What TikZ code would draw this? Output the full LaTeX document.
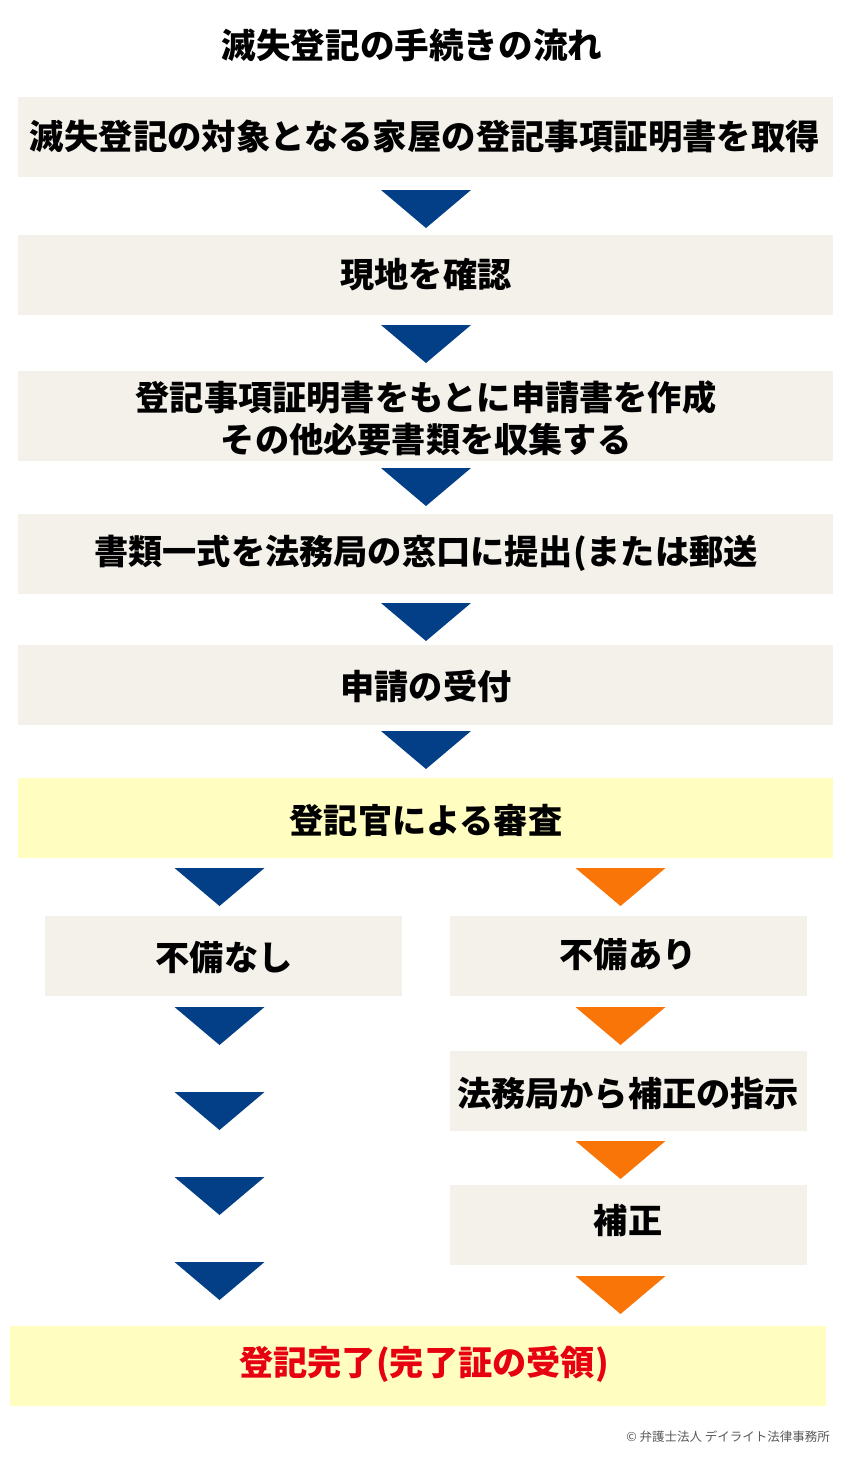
\documentclass[tikz,border=0pt]{standalone}
\usepackage{fontspec}
\setmainfont{Noto Sans CJK JP}
\definecolor{beige}{HTML}{F4F0EA}
\definecolor{yel}{HTML}{FFFDBF}
\definecolor{navy}{HTML}{023F87}
\definecolor{org}{HTML}{FA7507}
\definecolor{redt}{HTML}{E60012}
\newcommand\tri[3]{\fill[#3] (#1-45,#2) -- (#1+45,#2) -- (#1,#2+38) -- cycle;}
\begin{document}
\begin{tikzpicture}[x=1pt,y=-1pt,
  box/.style={fill=beige, inner sep=0pt, minimum height=80},
  wide/.style={minimum width=815},
  half/.style={minimum width=357},
  ybox/.style={box, fill=yel},
  txt/.style={inner sep=0pt, font=\fontsize{34.2}{42}\selectfont\bfseries, text=black, align=center}]
\useasboundingbox (0,0) rectangle (850,1461);
\fill[white] (0,0) rectangle (850,1461);
\node[txt, font=\fontsize{34.6}{42}\selectfont\bfseries] (title) at (412,45) {滅失登記の手続きの流れ};
% main column boxes
\node[box,wide] (b1) at (425.5,137) {};
\node[txt, font=\fontsize{34.4}{42}\selectfont\bfseries] at (425,136) {滅失登記の対象となる家屋の登記事項証明書を取得};
\node[box,wide] (b2) at (425.5,274.5) {};
\node[txt] at (426,275) {現地を確認};
\node[box,wide,minimum height=90] (b3) at (425.5,416) {};
\node[txt] at (426,418) {登記事項証明書をもとに申請書を作成\\その他必要書類を収集する};
\node[box,wide] (b4) at (425.5,553.5) {};
\node[txt] at (426,553) {書類一式を法務局の窓口に提出(または郵送};
\node[box,wide] (b5) at (425.5,684.5) {};
\node[txt] at (426,686) {申請の受付};
\node[ybox,wide] (b6) at (425.5,818) {};
\node[txt] at (426,820) {登記官による審査};
% branches
\node[box,half] (L) at (223.5,956) {};
\node[txt] at (224,958) {不備なし};
\node[box,half] (R) at (628.5,956) {};
\node[txt] at (628,955) {不備あり};
\node[box,half] (R2) at (628.5,1091) {};
\node[txt] at (628,1094) {法務局から補正の指示};
\node[box,half] (R3) at (628.5,1224.5) {};
\node[txt] at (628,1221) {補正};
\node[ybox,minimum width=816] (F) at (418,1366) {};
\node[txt,text=redt] at (424,1364) {登記完了(完了証の受領)};
% arrows
\tri{426}{190}{navy}
\tri{426}{325}{navy}
\tri{426}{468}{navy}
\tri{426}{603}{navy}
\tri{426}{731}{navy}
\tri{219.5}{868}{navy}
\tri{219.5}{1007}{navy}
\tri{219.5}{1092}{navy}
\tri{219.5}{1177}{navy}
\tri{219.5}{1262}{navy}
\tri{620.5}{868}{org}
\tri{620.5}{1007}{org}
\tri{620.5}{1141}{org}
\tri{620.5}{1276}{org}
\node[inner sep=0pt, anchor=east, text=black!65, font=\fontsize{12.5}{14}\selectfont] (copy) at (830,1437) {© 弁護士法人 デイライト法律事務所};
\end{tikzpicture}
\end{document}
